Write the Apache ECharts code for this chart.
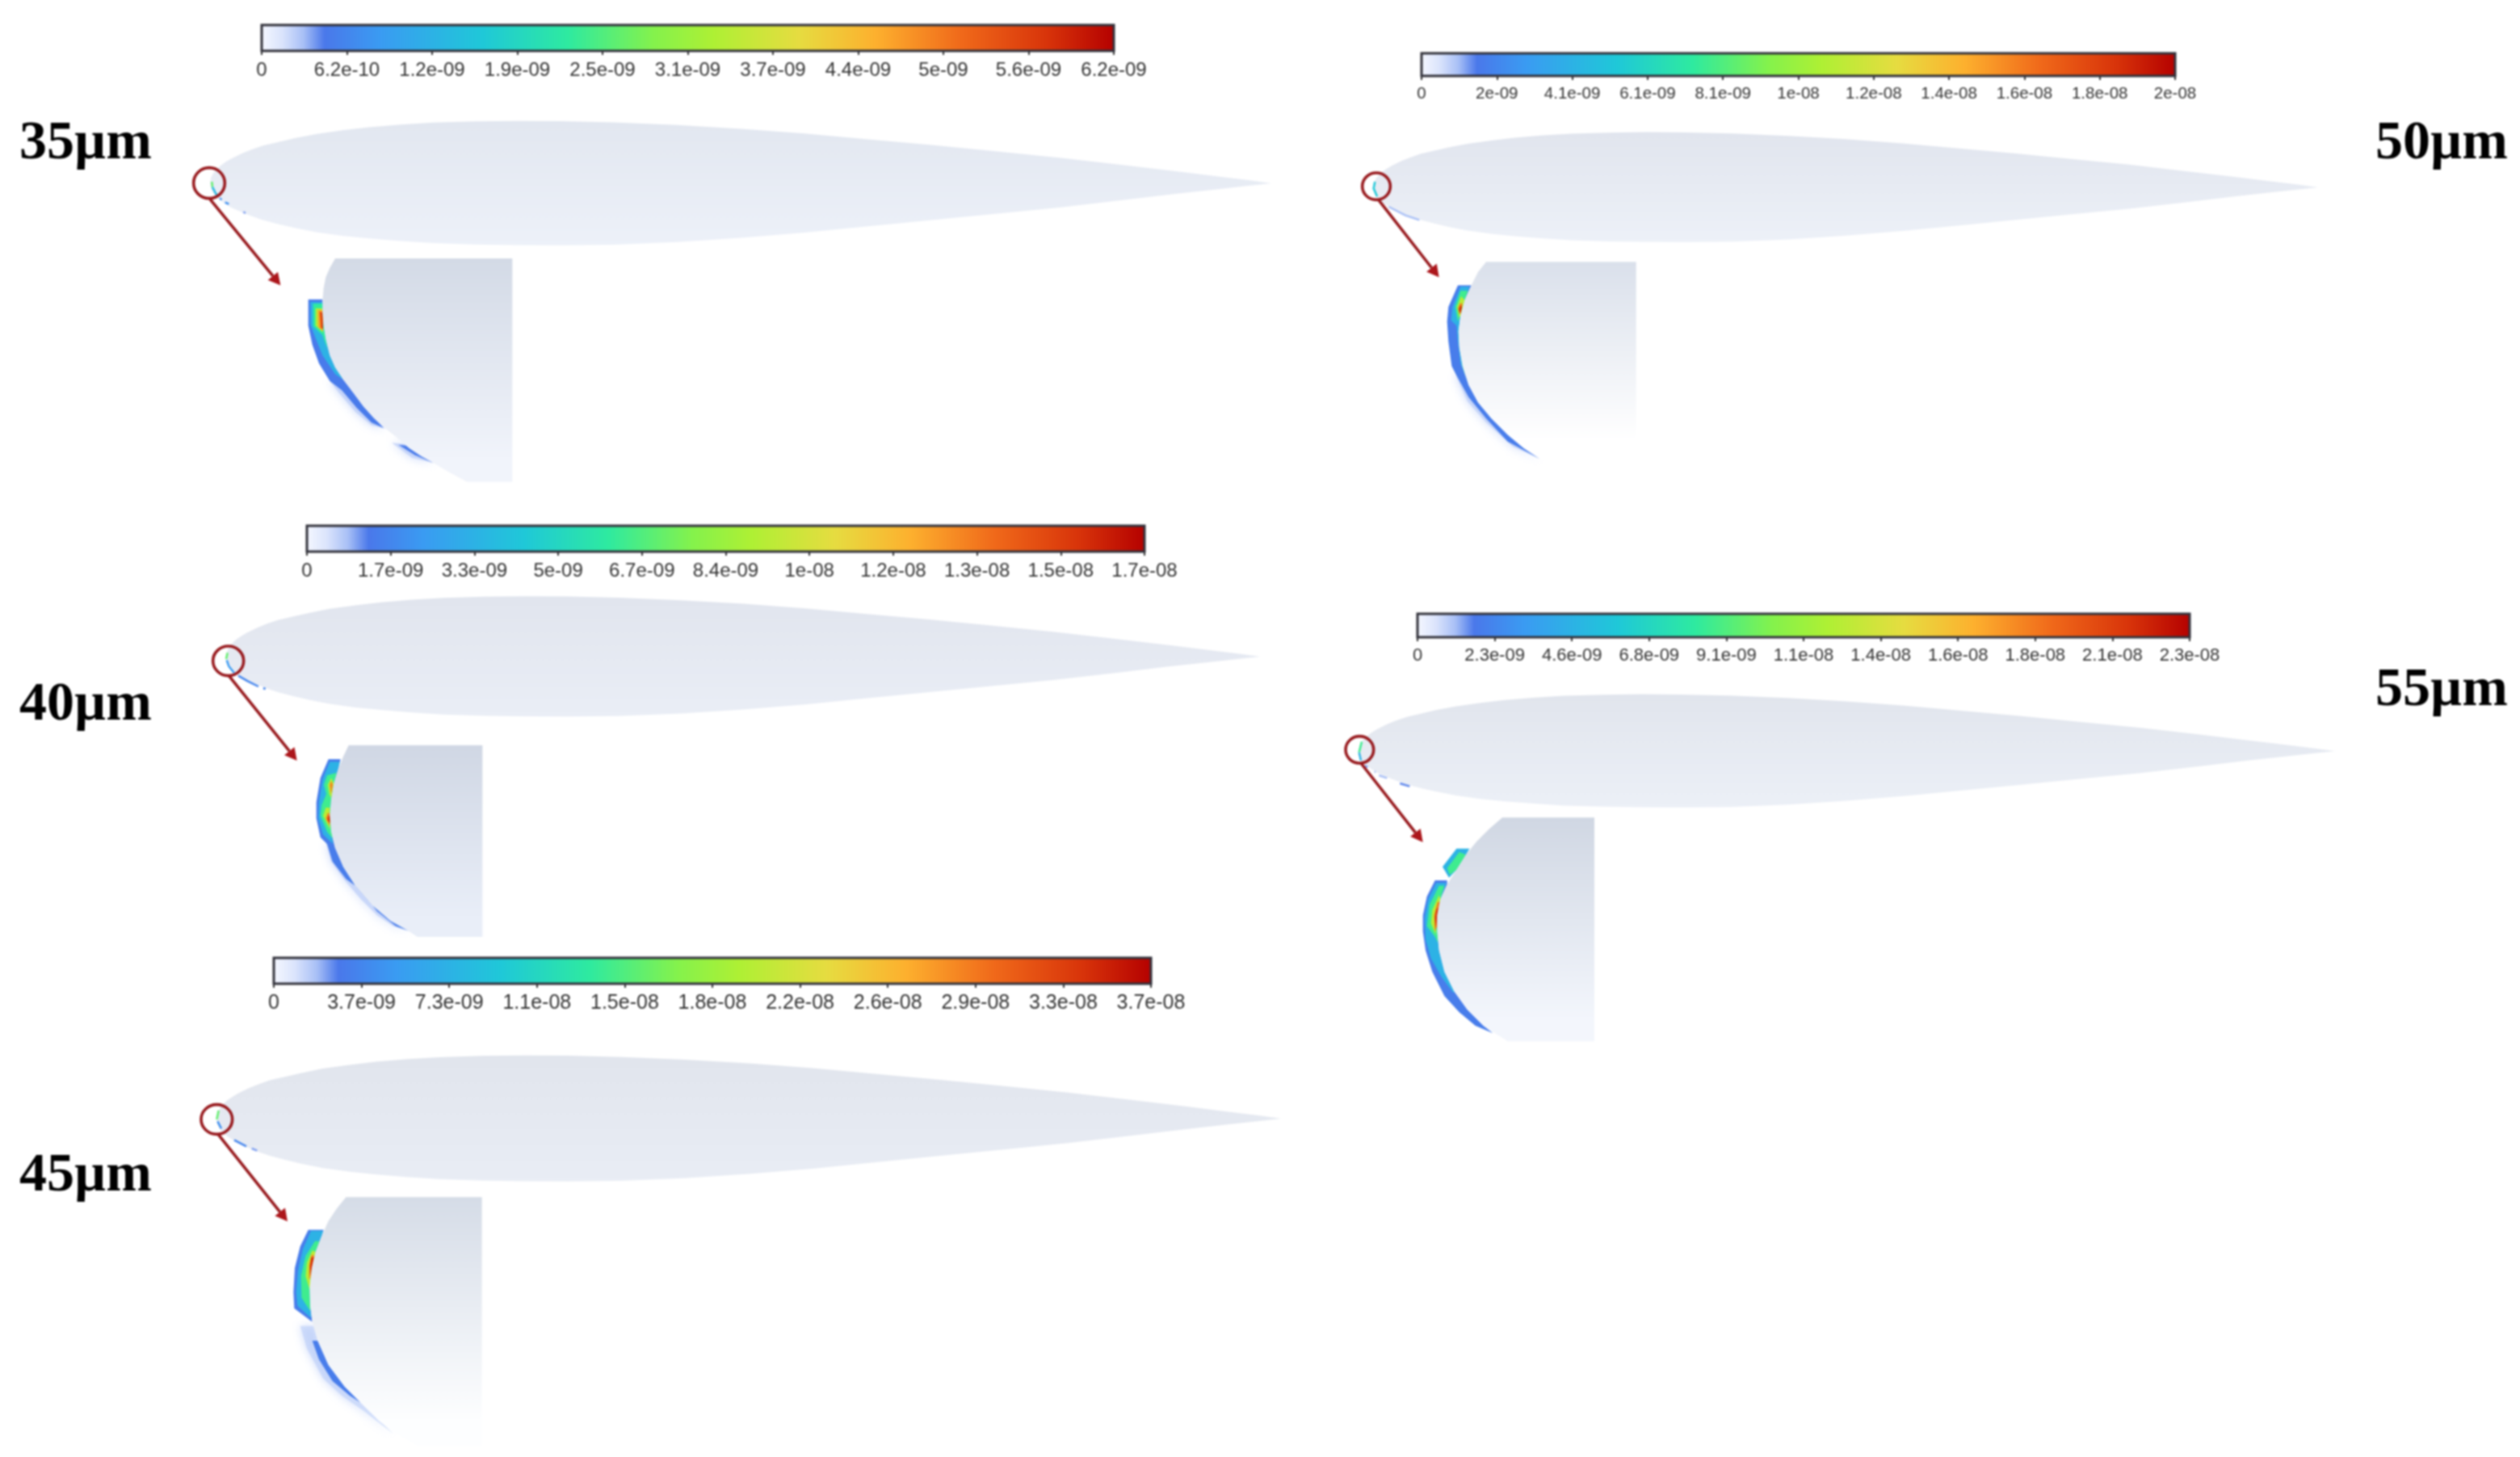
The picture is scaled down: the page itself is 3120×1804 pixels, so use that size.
<!DOCTYPE html>
<html><head><meta charset="utf-8">
<style>html,body{margin:0;padding:0;background:#fff}#c{width:3120px;height:1804px;filter:blur(0.8px)}</style>
<script src="https://cdn.jsdelivr.net/npm/echarts@6/dist/echarts.min.js"></script>
</head><body><div id="c"></div>
<script>
// ---------- text ----------
const panelLabels = ['35µm','40µm','45µm','50µm','55µm'];
const ticks35 = ['0','6.2e-10','1.2e-09','1.9e-09','2.5e-09','3.1e-09','3.7e-09','4.4e-09','5e-09','5.6e-09','6.2e-09'];
const ticks40 = ['0','1.7e-09','3.3e-09','5e-09','6.7e-09','8.4e-09','1e-08','1.2e-08','1.3e-08','1.5e-08','1.7e-08'];
const ticks45 = ['0','3.7e-09','7.3e-09','1.1e-08','1.5e-08','1.8e-08','2.2e-08','2.6e-08','2.9e-08','3.3e-08','3.7e-08'];
const ticks50 = ['0','2e-09','4.1e-09','6.1e-09','8.1e-09','1e-08','1.2e-08','1.4e-08','1.6e-08','1.8e-08','2e-08'];
const ticks55 = ['0','2.3e-09','4.6e-09','6.8e-09','9.1e-09','1.1e-08','1.4e-08','1.6e-08','1.8e-08','2.1e-08','2.3e-08'];

// ---------- colour scale (fraction of the colour bar, colour) ----------
const scalePos = [0,0.025,0.05,0.075,0.14,0.26,0.36,0.46,0.53,0.63,0.72,0.82,0.92,1];
const scaleCol = ['#f6f8ff','#dbe4fc','#a9c0f6','#4a78ea','#3a9bf2','#1fc8d8','#2eeaa0','#84f24c','#aef034','#e6dc40','#fdb02e','#f0691a','#d8340a','#b40000'];

// ---------- aerofoil section, chord fractions ----------
const chordX = [0,.001,.003,.006,.01,.015,.02,.03,.04,.05,.065,.08,.10,.125,.15,.18,.21,.25,.29,.33,.38,.44,.50,.56,.62,.68,.74,.80,.86,.91,.95,.98,1];
const upperY = [0,.0055,.0095,.0133,.017,.0205,.0235,.0285,.0325,.036,.0395,.043,.047,.0505,.0535,.056,.0578,.059,.0595,.0592,.058,.0555,.052,.0475,.042,.0365,.0305,.0245,.0175,.0115,.0065,.0028,0];
const lowerY = [0,-.0055,-.0095,-.013,-.0165,-.02,-.023,-.0275,-.0315,-.035,-.039,-.0425,-.0465,-.05,-.0525,-.055,-.057,-.0582,-.0588,-.059,-.0585,-.056,-.052,-.047,-.041,-.035,-.029,-.023,-.016,-.01,-.0055,-.0022,0];

// ---------- enlarged leading edges (crop units) ----------
const surface35 = [[225,60],[205,95],[190,130],[182,170],[178,215],[178,260],[182,310],[190,360],[205,420],[225,465],[255,510],[290,555],[330,610],[370,655],[410,690],[450,722],[500,765],[545,795],[590,820],[650,855],[715,890],[883,890],[883,60]];
const bands35 = [
 [.045,[[205,515],[240,560],[300,630],[360,680],[410,692],[330,610],[255,510]]],
 [.045,[[435,745],[490,750],[590,820],[510,800]]],
 [.08,[[125,212],[125,310],[140,380],[165,450],[205,515],[250,550],[305,615],[360,670],[405,690],[330,610],[255,510],[225,465],[205,420],[190,360],[182,310],[178,260],[178,212]]],
 [.08,[[460,752],[490,755],[590,820],[520,790]]],
 [.2,[[133,222],[133,305],[150,350],[178,420],[225,490],[255,510],[225,465],[205,420],[190,360],[182,310],[178,260],[178,222]]],
 [.36,[[143,228],[143,312],[178,345],[195,395],[190,360],[182,310],[178,260],[178,228]]],
 [.54,[[152,245],[152,310],[180,335],[178,260],[178,245]]],
 [.74,[[160,252],[162,315],[180,330],[178,260],[178,252]]],
 [.9,[[168,258],[172,318],[180,322],[178,260]]]
];
const surface40 = [[575,428],[555,470],[535,520],[520,570],[510,630],[505,690],[510,750],[525,810],[555,880],[600,950],[660,1020],[730,1080],[800,1120],[830,1140],[1072,1140],[1072,428]];
const bands40 = [
 [.045,[[490,790],[510,860],[560,930],[620,1000],[680,1060],[740,1100],[800,1120],[730,1080],[660,1020],[600,950],[555,880],[525,810]]],
 [.085,[[500,480],[470,550],[455,640],[455,700],[470,770],[495,795],[515,860],[565,925],[620,965],[680,1045],[750,1100],[800,1118],[730,1080],[660,1020],[600,950],[555,880],[525,810],[510,750],[505,690],[510,630],[520,570],[535,520],[545,480]]],
 [.2,[[505,490],[478,555],[465,640],[462,700],[480,760],[517,795],[510,750],[505,690],[510,630],[520,570],[535,520],[542,490]]],
 [.38,[[495,540],[483,575],[492,610],[475,650],[470,690],[495,750],[515,775],[505,690],[510,630],[520,570],[530,530]]],
 [.55,[[510,550],[497,575],[503,610],[510,625],[520,570]]],
 [.55,[[490,660],[480,690],[505,740],[505,660]]],
 [.78,[[510,560],[505,575],[510,610],[516,575]]],
 [.78,[[497,680],[490,700],[505,728],[505,680]]],
 [.94,[[500,690],[497,705],[506,718],[505,690]]]
];
const surface45 = [[595,367],[560,410],[530,455],[505,510],[482,570],[468,630],[460,700],[462,770],[470,830],[490,900],[530,990],[590,1070],[650,1130],[720,1200],[790,1250],[860,1290],[1100,1290],[1100,367]];
const bands45 = [
 [.04,[[425,845],[450,930],[510,1040],[580,1105],[660,1160],[770,1245],[650,1130],[590,1070],[530,990],[490,900],[475,845]]],
 [.085,[[470,900],[495,970],[545,1050],[610,1105],[650,1130],[590,1070],[530,990],[490,900]]],
 [.085,[[455,488],[425,550],[405,630],[400,720],[403,780],[470,830],[462,770],[460,700],[468,630],[482,570],[505,510],[512,488]]],
 [.2,[[465,492],[435,560],[417,640],[410,720],[415,770],[465,815],[462,770],[460,700],[468,630],[482,570],[505,510],[510,492]]],
 [.38,[[480,530],[445,585],[428,660],[430,740],[462,790],[460,700],[468,630],[482,570],[497,530]]],
 [.55,[[470,565],[450,610],[445,660],[460,710],[468,630],[482,570]]],
 [.78,[[468,580],[458,620],[458,670],[462,670],[468,630],[478,585]]],
 [.93,[[466,590],[462,625],[462,660],[470,620],[476,590]]]
];
const surface50 = [[540,403],[510,440],[485,490],[460,545],[445,600],[437,660],[440,720],[452,790],[475,860],[510,925],[560,985],[620,1045],[680,1095],[740,1135],[1097,1135],[1097,403]];
const bands50 = [
 [.045,[[430,830],[470,920],[540,1000],[640,1090],[740,1135],[680,1095],[620,1045],[560,985],[510,925],[475,860],[452,790]]],
 [.085,[[435,490],[400,570],[395,625],[400,700],[412,790],[430,825],[475,905],[540,985],[620,1070],[740,1135],[680,1095],[620,1045],[560,985],[510,925],[475,860],[452,790],[440,720],[437,660],[445,600],[460,545],[485,490]]],
 [.2,[[445,495],[415,570],[410,620],[430,640],[435,700],[445,780],[470,840],[475,860],[452,790],[440,720],[437,660],[445,600],[460,545],[478,495]]],
 [.38,[[445,510],[425,570],[435,625],[445,600],[460,545],[472,510]]],
 [.38,[[440,700],[452,790],[462,830],[448,760]]],
 [.55,[[447,530],[432,570],[440,610],[445,600],[460,545]]],
 [.8,[[445,555],[435,575],[442,600],[452,560]]],
 [.95,[[445,565],[440,580],[445,595],[450,570]]]
];
const surface55 = [[600,337],[550,380],[505,425],[465,475],[430,530],[395,585],[370,640],[358,700],[358,760],[365,830],[385,910],[420,980],[470,1050],[530,1110],[620,1168],[942,1168],[942,337]];
const bands55 = [
 [.2,[[430,452],[378,520],[402,560],[430,530],[465,475],[478,452]]],
 [.38,[[440,465],[395,525],[405,550],[430,530],[465,475]]],
 [.085,[[350,570],[320,630],[305,700],[305,760],[315,830],[340,910],[385,1000],[440,1060],[500,1110],[565,1138],[530,1110],[470,1050],[420,980],[385,910],[365,830],[358,760],[358,700],[370,640],[395,585],[395,570]]],
 [.2,[[355,580],[325,640],[312,710],[315,790],[335,860],[375,930],[420,990],[420,980],[385,910],[365,830],[358,760],[358,700],[370,640],[392,580]]],
 [.38,[[365,590],[330,660],[320,740],[350,780],[360,800],[358,700],[370,640],[385,590]]],
 [.55,[[365,625],[340,680],[335,730],[352,770],[358,700],[370,640]]],
 [.8,[[360,650],[347,700],[350,760],[358,740],[358,700],[368,650]]],
 [.93,[[355,680],[350,710],[353,745],[358,700],[362,670]]]
];
// thin traces on the full section
const traces35 = [[.42,[[97,105],[99,125]]],[.22,[[99,125],[112,150],[122,160]]],[.12,[[127,166],[133,172]]],[.12,[[146,182],[160,188]]],[.06,[[214,217],[222,222]]]];
const traces40 = [[.42,[[125,85],[120,108]]],[.14,[[122,112],[130,135],[150,160]]],[.1,[[165,170],[200,190],[240,210]]],[.1,[[258,216],[266,219]]]];
const traces45 = [[.42,[[122,45],[115,78]]],[.12,[[118,85],[132,112]]],[.1,[[180,155],[225,178]]],[.06,[[245,186],[265,194]]]];
const traces50 = [[.26,[[127,105],[122,130],[135,160]]],[.05,[[178,198],[240,230],[292,247]]]];
const traces55 = [[.38,[[78,55],[68,95]]],[.2,[[68,95],[75,125]]],[.06,[[90,143],[100,150]]],[.05,[[125,166],[130,168]]],[.05,[[142,180],[172,190]]],[.07,[[220,210],[256,221]]]];

// ---------- layout (page pixels) ----------
const barBoxes   = [[324,31,1055,32,24],[380,651,1037,32,24],[339,1186,1086,32,25],[1760,66,933,28,20.5],[1755,760,956,29,22]];
const foilBoxes  = [[260,1574,227,78],[280,1560,813,75.5],[268,1586,1385,79],[1700,2870,232,69],[1682,2891,930,71]];
const cropBoxes  = [[340,300,320,320],[240,780,400,400],[230,1360,400,440],[1660,190,420,400],[1660,900,360,420]];
const ringCrop35 = [230,190,240,180];
const ringShapes = [[87,110,58,57],[128,115,57,55],[115,78,58,55],[132,122,52,50],[70,85,52,50]];
const arrowLines = [[90,170,352,490],[130,170,383,485],[120,133,378,457],[140,172,365,460],[75,135,305,428]];
const bodyTones  = [['#d3dae6','#f1f4fb'],['#d0d7e4','#e9eef8'],['#d5dce7','#fdfeff'],['#dae0eb','#ffffff'],['#d0d7e3','#f3f6fc']];
const foilTones  = [['#e2e7f0','#edf1f9'],['#e1e5ee','#eaeef6'],['#e1e5ed','#e9edf5'],['#e1e5ee','#edf1f8'],['#e1e5ed','#ecf0f7']];
const labelSpots = [[24,144],[24,839],[24,1422],[2941,144],[2941,821]];

const tickSets = [ticks35,ticks40,ticks45,ticks50,ticks55];
const surfaces = [surface35,surface40,surface45,surface50,surface55];
const bandSets = [bands35,bands40,bands45,bands50,bands55];
const traceSets = [traces35,traces40,traces45,traces50,traces55];

function levelColor(v){
  let i=0; while(i<scalePos.length-2 && v>scalePos[i+1]) i++;
  const t=(v-scalePos[i])/(scalePos[i+1]-scalePos[i]);
  const a=scaleCol[i], b=scaleCol[i+1], c=[1,3,5].map(k=>{
    const p=parseInt(a.substr(k,2),16), q=parseInt(b.substr(k,2),16);
    return Math.round(p+(q-p)*t).toString(16).padStart(2,'0');
  });
  return '#'+c.join('');
}
const LG = echarts.graphic.LinearGradient;
const grids=[], xAxes=[], yAxes=[], series=[];
function addGrid(box, xr, yr, yInv, xExtra){
  grids.push({left:box[0],top:box[1],width:box[2],height:box[3],containLabel:false});
  xAxes.push(Object.assign({type:'value',gridIndex:grids.length-1,min:xr[0],max:xr[1],show:false},xExtra||{}));
  yAxes.push({type:'value',gridIndex:grids.length-1,min:yr[0],max:yr[1],inverse:!!yInv,show:false});
  return grids.length-1;
}
function addCustom(g, fn, z){
  series.push({type:'custom',coordinateSystem:'cartesian2d',xAxisIndex:g,yAxisIndex:g,clip:false,silent:true,z:z||2,
    animation:false,data:[[0,0]],renderItem:fn});
}
panelLabels.forEach((name,p)=>{
  // colour bar
  const b=barBoxes[p], t=tickSets[p];
  const gb=addGrid(b.slice(0,4),[0,t.length-1],[0,1],false,{
    show:true,interval:1,
    axisLine:{show:true,onZero:false,lineStyle:{color:'#222',width:2}},
    axisTick:{show:true,length:5,lineStyle:{color:'#333',width:2}},
    splitLine:{show:false},
    axisLabel:{show:true,margin:12,color:'#333',fontFamily:'Liberation Sans',fontSize:b[4],
      showMinLabel:true,showMaxLabel:true,hideOverlap:false,formatter:v=>t[v]}
  });
  addCustom(gb,(params,api)=>{
    const a=api.coord([0,1]), c=api.coord([t.length-1,0]);
    return {type:'rect',shape:{x:a[0],y:a[1],width:c[0]-a[0],height:c[1]-a[1]},
      style:{fill:new LG(0,0,1,0,scalePos.map((o,i)=>({offset:o,color:scaleCol[i]}))),stroke:'#33333c',lineWidth:3}};
  });
  // whole section
  const f=foilBoxes[p];
  const gf=addGrid([f[0],f[2]-f[3],f[1]-f[0],2*f[3]],[0,1],[-.06,.06]);
  addCustom(gf,(params,api)=>{
    const pts=[];
    chordX.forEach((x,i)=>pts.push(api.coord([x,upperY[i]])));
    for(let i=chordX.length-2;i>0;i--) pts.push(api.coord([chordX[i],lowerY[i]]));
    return {type:'polygon',shape:{points:pts},style:{fill:new LG(0,0,0,1,[{offset:0,color:foilTones[p][0]},{offset:1,color:foilTones[p][1]}])}};
  });
  // enlarged leading edge
  const cr=cropBoxes[p];
  const gc=addGrid(cr,[0,cr[2]*3],[0,cr[3]*3],true);
  bandSets[p].forEach(([v,pts])=>{
    const soft=v<.07;
    addCustom(gc,(params,api)=>({type:'polygon',shape:{points:pts.map(q=>api.coord(q))},
      style:Object.assign({fill:levelColor(v)},soft?{opacity:.6,shadowBlur:12,shadowColor:levelColor(.05)}:{})}),3);
  });
  addCustom(gc,(params,api)=>({type:'polygon',shape:{points:surfaces[p].map(q=>api.coord(q))},
    style:{fill:new LG(0,0,0,1,[{offset:0,color:bodyTones[p][0]},{offset:.9,color:bodyTones[p][1]},{offset:1,color:bodyTones[p][1]}])}}),4);
  // ring, arrow, traces
  const rb=p===0?ringCrop35:cr;
  const gr=addGrid(rb,[0,rb[2]*3],[0,rb[3]*3],true);
  traceSets[p].forEach(([v,pts])=>{
    addCustom(gr,(params,api)=>({type:'polyline',shape:{points:pts.map(q=>api.coord(q))},style:{fill:null,stroke:levelColor(v),lineWidth:2.5}}),5);
  });
  const ring=ringShapes[p], ar=arrowLines[p];
  addCustom(gr,(params,api)=>{
    const c=api.coord([ring[0],ring[1]]), e=api.coord([ring[0]+ring[2],ring[1]+ring[3]]);
    return {type:'ellipse',shape:{cx:c[0],cy:c[1],rx:e[0]-c[0],ry:e[1]-c[1]},style:{fill:null,stroke:'#981a1e',lineWidth:3.6}};
  },6);
  addCustom(gr,(params,api)=>{
    const s=api.coord([ar[0],ar[1]]), d=api.coord([ar[2],ar[3]]);
    const L=Math.hypot(d[0]-s[0],d[1]-s[1]), ux=(d[0]-s[0])/L, uy=(d[1]-s[1])/L;
    const hx=d[0]-ux*15, hy=d[1]-uy*15;
    return {type:'group',children:[
      {type:'line',shape:{x1:s[0],y1:s[1],x2:hx,y2:hy},style:{stroke:'#981a1e',lineWidth:3.6}},
      {type:'polygon',shape:{points:[d,[hx-uy*8,hy+ux*8],[hx+uy*8,hy-ux*8]]},style:{fill:'#ac161b'}}
    ]};
  },6);
});
const chart=echarts.init(document.getElementById('c'),null,{renderer:'canvas',width:3120,height:1804});
chart.setOption({
  animation:false,backgroundColor:'#ffffff',
  title:panelLabels.map((n,i)=>({text:n,left:labelSpots[i][0],top:labelSpots[i][1],padding:0,
    textStyle:{fontFamily:'Liberation Serif',fontWeight:'bold',fontSize:68,color:'#000'}})),
  grid:grids,xAxis:xAxes,yAxis:yAxes,series:series
});
</script></body></html>
